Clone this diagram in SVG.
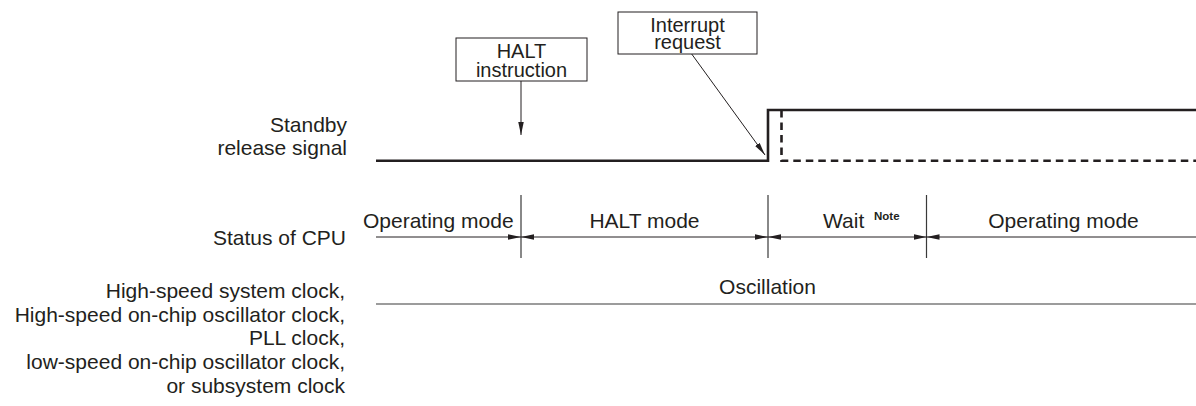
<svg xmlns="http://www.w3.org/2000/svg" width="1196" height="406" viewBox="0 0 1196 406">
<style>
text{font-family:"Liberation Sans",Arial,Helvetica,sans-serif;font-size:21px;fill:#231f20}
.e{text-anchor:end}
.m{text-anchor:middle}
.bx{font-size:20px}
.note{font-size:11.5px;font-weight:bold}
.box{fill:#fff;stroke:#231f20;stroke-width:1}
.thin{fill:none;stroke:#231f20;stroke-width:1}
.sig{fill:none;stroke:#231f20;stroke-width:2.6}
.dash{fill:none;stroke:#231f20;stroke-width:2.6;stroke-dasharray:7.5 5}
.vl{fill:none;stroke:#3a3a3a;stroke-width:1.2}
</style>
<defs>
<marker id="ah" markerUnits="userSpaceOnUse" markerWidth="14" markerHeight="6" refX="13" refY="2.75" orient="auto-start-reverse">
<path d="M0,0 L13,2.75 L0,5.5 z" fill="#231f20"/>
</marker>
</defs>
<rect width="1196" height="406" fill="#fff"/>

<g id="labels">
<text class="e" x="347" y="131.5">Standby</text>
<text class="e" x="347" y="155">release signal</text>
<text class="e" x="346" y="245">Status of CPU</text>
<text class="e" x="345" y="298">High-speed system clock,</text>
<text class="e" x="345" y="321.7">High-speed on-chip oscillator clock,</text>
<text class="e" x="345" y="345.4">PLL clock,</text>
<text class="e" x="345" y="369">low-speed on-chip oscillator clock,</text>
<text class="e" x="345" y="392.7">or subsystem clock</text>
</g>

<g id="halt-instruction">
<rect class="box" x="456" y="38" width="131" height="43"/>
<text class="m bx" x="521.5" y="57.5">HALT</text>
<text class="m bx" x="521.5" y="77">instruction</text>
</g>

<g id="interrupt-request">
<rect class="box" x="618" y="12" width="139" height="42"/>
<text class="m bx" x="687.5" y="31.5">Interrupt</text>
<text class="m bx" x="687.5" y="48.5">request</text>
</g>

<g id="standby-signal">
<path class="sig" d="M376,160.7 H768 V110 H1196"/>
<path class="dash" d="M781.5,110 V160.7 H1196"/>
</g>

<g id="cpu-status">
<text x="363" y="228">Operating mode</text>
<text class="m" x="644.5" y="228">HALT mode</text>
<text x="823" y="227.5">Wait</text>
<text class="note" x="874" y="219.5">Note</text>
<text class="m" x="1063.5" y="228">Operating mode</text>
</g>

<g id="oscillation">
<text class="m" x="767.5" y="294.3">Oscillation</text>
<path class="vl" d="M376,304 H1196"/>
</g>

<g id="connectors">
<path class="thin" d="M521,81 V135" marker-end="url(#ah)"/>
<path class="thin" d="M691.7,54 L765,155" marker-end="url(#ah)"/>
<path class="vl" d="M521,195 V258 M768,195 V258 M926.5,195 V258"/>
<path class="thin" d="M376,237 H521" marker-end="url(#ah)"/>
<path class="thin" d="M521,237 H768" marker-start="url(#ah)" marker-end="url(#ah)"/>
<path class="thin" d="M768,237 H926.5" marker-start="url(#ah)" marker-end="url(#ah)"/>
<path class="thin" d="M926.5,237 H1196" marker-start="url(#ah)"/>
</g>
</svg>
